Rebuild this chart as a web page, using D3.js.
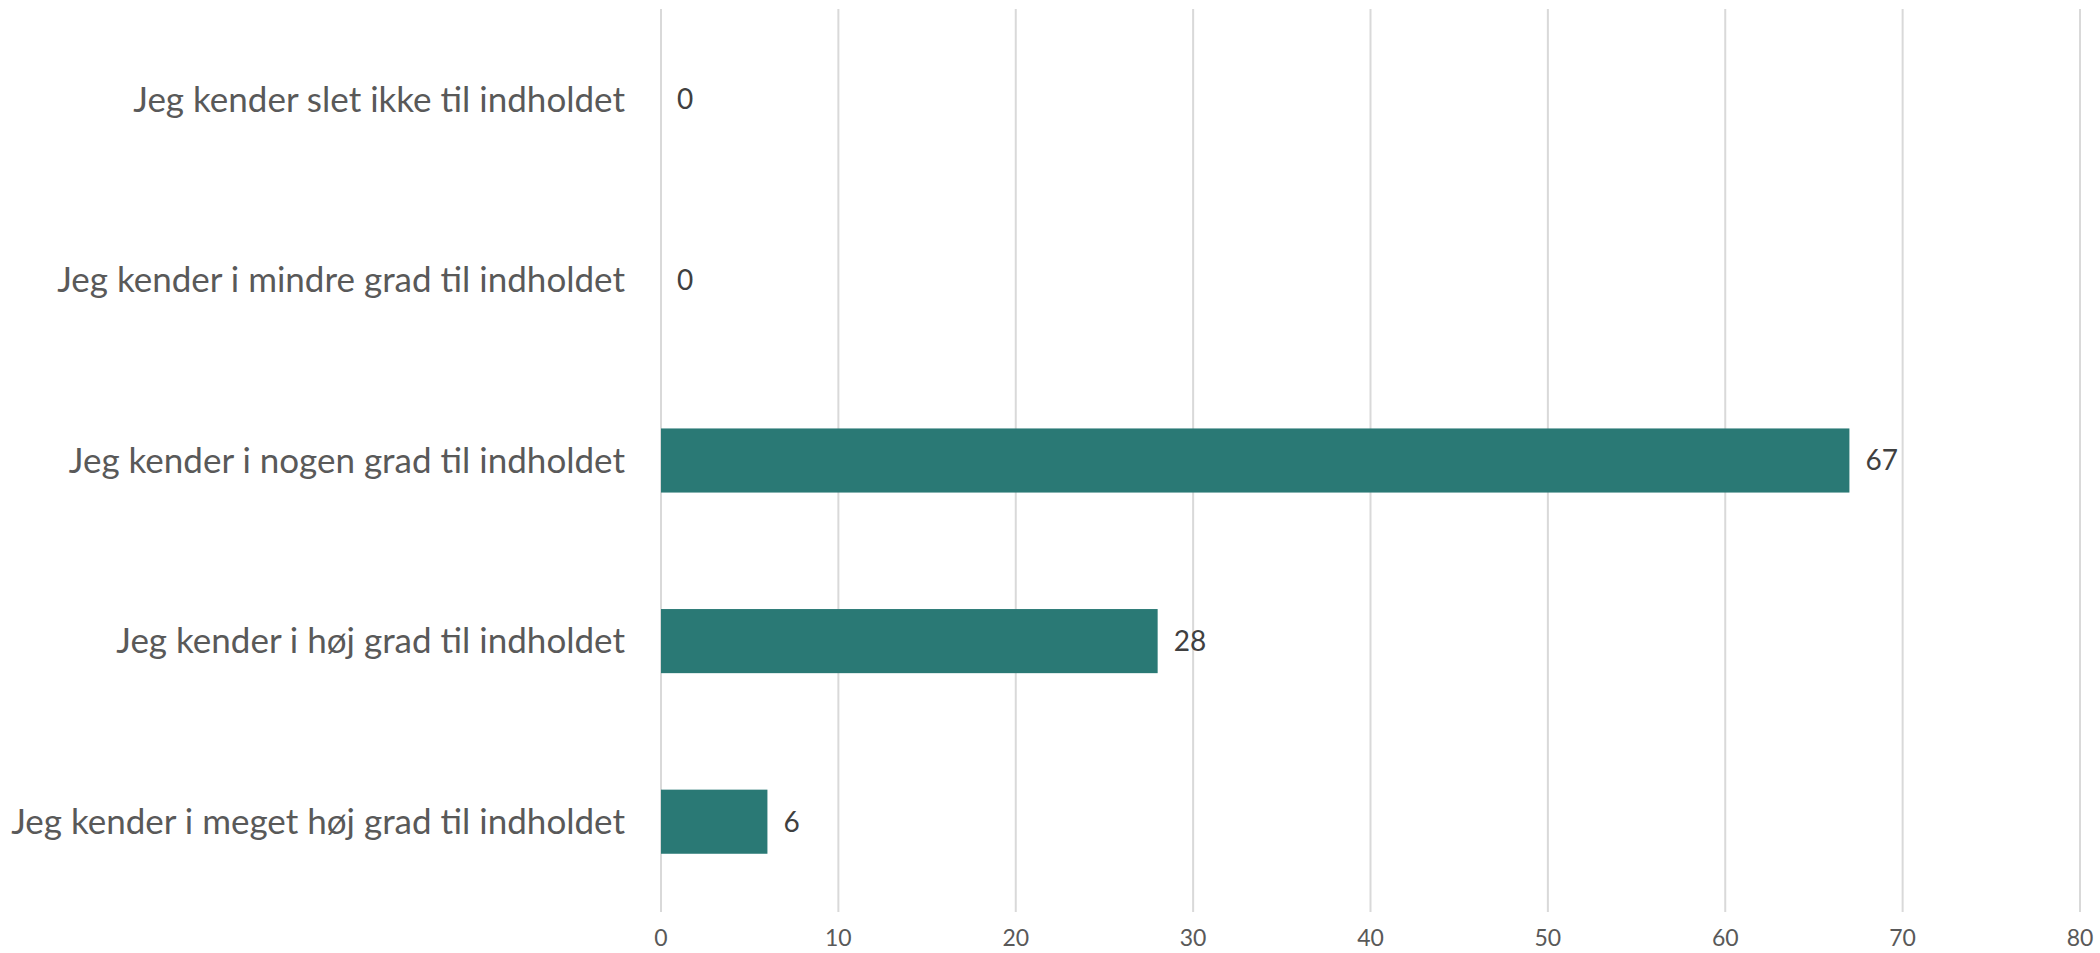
<!DOCTYPE html>
<html>
<head>
<meta charset="utf-8">
<script src="https://cdn.jsdelivr.net/npm/d3@7"></script>
<style>
  body { margin: 0; background: #fff; }
  text { font-family: Lato, "Open Sans", sans-serif; }
</style>
</head>
<body>
<svg id="viz"></svg>
<script>
// survey answers, top to bottom
const categories = [
    "Jeg kender slet ikke til indholdet",
    "Jeg kender i mindre grad til indholdet",
    "Jeg kender i nogen grad til indholdet",
    "Jeg kender i høj grad til indholdet",
    "Jeg kender i meget høj grad til indholdet"
];
const values = [0, 0, 67, 28, 6];
const xTicks = [0, 10, 20, 30, 40, 50, 60, 70, 80];

const app = {
    init() {
        const width = 2100, height = 953;
        const left = 661, right = 2080, top = 9, bottom = 912;

        const svg = d3.select("#viz").attr("width", width).attr("height", height);

        const x = d3.scaleLinear().domain([0, 80]).range([left, right]);
        const y = d3.scaleBand().domain(categories).range([top, bottom]).paddingInner(0.645).paddingOuter(0.3225);

        // gridlines
        svg.append("g").selectAll("line").data(xTicks).enter().append("line")
            .attr("x1", d => x(d)).attr("x2", d => x(d)).attr("y1", top).attr("y2", bottom)
            .attr("stroke", "#d9d9d9").attr("stroke-width", 2);

        // x tick labels
        svg.append("g").selectAll("text").data(xTicks).enter().append("text")
            .attr("x", d => x(d)).attr("y", 946).attr("text-anchor", "middle")
            .style("font-size", "23px").attr("fill", "#595959").text(d => d);

        // category labels
        svg.append("g").selectAll("text").data(categories).enter().append("text")
            .attr("x", 625).attr("y", d => y(d) + y.bandwidth() / 2).attr("dy", "0.35em")
            .attr("text-anchor", "end").style("font-size", "35px").attr("fill", "#595959").text(d => d);

        // bars
        svg.append("g").selectAll("rect").data(values).enter().append("rect")
            .attr("x", x(0)).attr("y", (d, i) => y(categories[i]))
            .attr("width", d => x(d) - x(0)).attr("height", y.bandwidth())
            .attr("fill", "#2a7975");

        // value labels
        svg.append("g").selectAll("text").data(values).enter().append("text")
            .attr("x", d => x(d) + 16).attr("y", (d, i) => y(categories[i]) + y.bandwidth() / 2).attr("dy", "0.35em")
            .style("font-size", "28px").attr("fill", "#404040").text(d => d);
    }
};

window.addEventListener("DOMContentLoaded", () => app.init());
</script>
</body>
</html>
